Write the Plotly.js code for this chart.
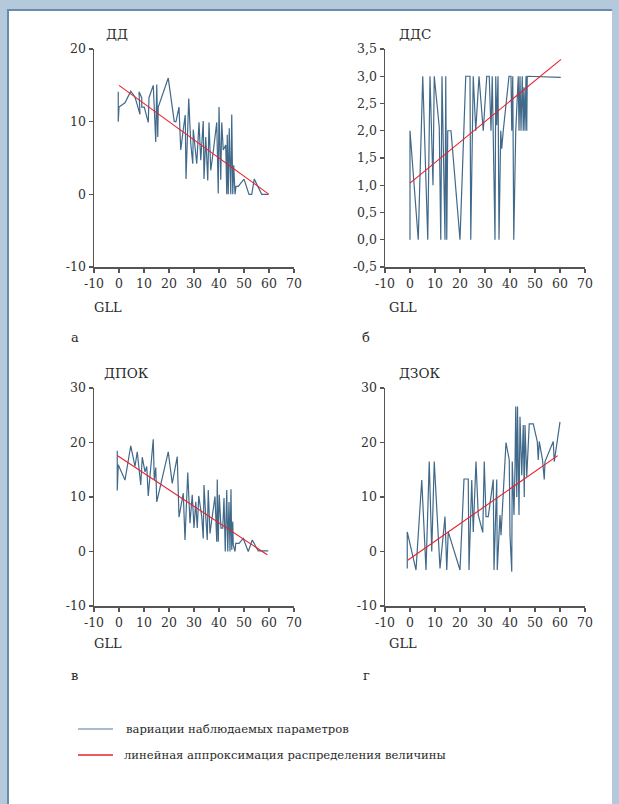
<!DOCTYPE html>
<html>
<head>
<meta charset="utf-8">
<script src="https://cdn.plot.ly/plotly-3.0.1.min.js"></script>
<style>
  html, body { margin: 0; padding: 0; width: 619px; height: 804px; overflow: hidden; background: #b5c9dd; }
  #panel { position: absolute; left: 7px; top: 9px; width: 603px; height: 800px; background: #ffffff;
           border-left: 2px solid #6a8cab; border-top: 2px solid #6a8cab; }
  #chart { position: absolute; left: 0; top: 0; width: 619px; height: 804px; }
</style>
</head>
<body>
<div id="panel"></div>
<div id="chart"></div>
<script>
// ---------- DATA ----------
const titles = ["ДД", "ДДС", "ДПОК", "ДЗОК"];
const panelLetters = ["а", "б", "в", "г"];
const xAxisLabel = "GLL";
const legendLabels = ["вариации наблюдаемых параметров", "линейная аппроксимация распределения величины"];

const ddX = [-0.3,-0.3,0,2.4,4.7,6.4,8.4,8,9.1,9.1,10.1,11.7,12,13.7,14.7,15.1,15.5,15.7,19.7,22.1,22.8,24,24.7,25.7,26.5,26.8,27.9,28.7,29.5,29.7,31.1,32,32.7,33.7,34,34.7,35.5,36,36.7,37.7,39.1,39.7,40,40.7,41.1,41.7,42.7,43.1,43.3,43.7,44.1,44.7,45.1,45.5,45.9,46.4,46.8,47.7,50,52,53.1,54.1,57.1,59.7];
const ddY = [14.1,10,12,12.6,14.2,13.4,11,14.1,13.3,12,12,9.9,13.3,15,7.2,15.1,7.9,12,16,10,10,12,6.1,8.9,10.9,2.1,13.2,7,4.2,8.9,4.2,9.9,4.7,10.1,2.1,7.9,1.9,9.9,3.3,5.9,9.9,0.1,12,2,9.9,6.1,6.8,0,8.2,0,9.1,0,11,0,4,0,1.1,1.1,2.1,0,0,2.1,0,0];
const ddFitX = [0, 60];
const ddFitY = [15, 0];

const ddsX = [0,0,3.3,5.1,7.1,8,9.2,9.7,11.7,12.3,12.8,14,14.3,14.5,14.7,15.1,16.4,20,22.3,24,24.3,25.3,26.3,27.6,29.3,30.7,31.7,32.4,32.9,34,34.3,34.7,35.2,35.6,36.3,36.7,37.3,39.6,40.4,40.7,41.1,41.5,42.3,43.3,43.6,44,44.4,44.9,45.3,45.6,46,46.4,46.7,46.9,60.3];
const ddsY = [0,2,0,3,0,3,1,3,2.07,0,3,0,3,1.65,0,2,2,0,3,3,0,3,2,3,2,3,3,2,3,0,3,2.1,3,0,2,1.67,2,3,3,2,3,0,2,3,2,3,2,3,2,2.8,2,3,2,3,2.98];
const ddsFitX = [0, 60.4];
const ddsFitY = [1.04, 3.31];

const dpokX = [-0.7,-0.7,-0.3,2.4,4.7,6.4,7.3,8.7,9.3,10.4,11.1,11.7,13.7,14.1,14.7,15.1,19.7,21.3,23.3,24,25.7,26.4,27.5,28.4,29.3,30,30.7,31.3,31.9,33.1,33.7,34,34.7,35.3,35.7,36.4,37.1,38.4,39.1,39.3,39.7,40.1,40.8,41.5,42,42.5,43.1,43.5,44,44.4,44.8,45.1,45.5,45.7,46.4,46.7,48,49.7,51.7,53.3,55.7,59.7];
const dpokY = [18.5,11.2,15.9,13.1,19.4,15.6,18.3,12.2,17.3,14.6,15.6,10.2,20.6,13.1,15.4,9.1,18.3,12.5,17.4,6.3,10.7,2.1,14.5,5.2,10.4,4.3,9.1,4.3,10.2,6.4,2.4,12.2,6.4,2.1,11.3,3.3,5.8,10.1,1.8,13.2,1.8,10.4,4.3,4.3,9.8,0,11.3,0,9.1,0,11.4,0.3,5.5,1.2,0,1.5,1.5,2.4,0,2.1,0.1,0.1];
const dpokFitX = [-0.7, 59.3];
const dpokFitY = [17.6, -0.6];

const dzokX = [-1.1,-1.1,2.4,4.7,6.4,7.7,8.7,9.7,12,14,14.7,15.3,20,21.6,23.3,23.6,24.7,25.3,26.4,27.3,29.1,29.7,30.4,31.3,33.3,33.6,34.7,34.9,36,36.4,38.4,39.7,40,40.7,40.9,41.6,42,42.3,42.7,43,43.6,44,44.7,45.3,45.7,46,46.7,47.7,49.3,50.9,51.3,51.7,53,53.7,54,57.3,57.7,60];
const dzokY = [-3.1,3.6,-3.4,13.1,-3.4,16.5,0,16.5,-3.1,6.4,-3.4,3.6,-3.4,13.3,13.3,-3.4,13.1,3.6,16.5,6.7,3.5,16.5,6.4,6.4,13.2,-3.4,13.2,-3.4,6.7,3,20,16.8,3,-3.7,16.5,6.7,15.6,26.6,10,26.6,6.7,24.7,14,23.2,10,23.2,13.7,23.4,23.4,20.2,16.8,20.2,16.8,13.2,16.5,20.2,16.5,23.8];
const dzokFitX = [-0.9, 59.1];
const dzokFitY = [-1.6, 17.6];

const xTicks = [-10, 0, 10, 20, 30, 40, 50, 60, 70];
const xTickText = ["-10", "0", "10", "20", "30", "40", "50", "60", "70"];
const ddTicks = [-10, 0, 10, 20];
const ddTickText = ["-10", "0", "10", "20"];
const ddsTicks = [-0.5, 0, 0.5, 1, 1.5, 2, 2.5, 3, 3.5];
const ddsTickText = ["-0,5", "0,0", "0,5", "1,0", "1,5", "2,0", "2,5", "3,0", "3,5"];
const bigTicks = [-10, 0, 10, 20, 30];
const bigTickText = ["-10", "0", "10", "20", "30"];

// ---------- STYLE / LAYOUT ----------
const W = 619, H = 804;
const px = v => v / W;
const py = v => 1 - v / H;
const FONT = "DejaVu Serif";
const dataColor = "#41698a";
const fitColor = "#e8202a";
const legendDataColor = "#8ca7c0";

const series = [
  {x: ddX, y: ddY, fx: ddFitX, fy: ddFitY},
  {x: ddsX, y: ddsY, fx: ddsFitX, fy: ddsFitY},
  {x: dpokX, y: dpokY, fx: dpokFitX, fy: dpokFitY},
  {x: dzokX, y: dzokY, fx: dzokFitX, fy: dzokFitY}
];

const traces = [];
series.forEach((s, i) => {
  const ax = i === 0 ? "" : String(i + 1);
  traces.push({x: s.x, y: s.y, xaxis: "x" + ax, yaxis: "y" + ax, type: "scatter", mode: "lines",
               line: {color: dataColor, width: 1.2}, hoverinfo: "skip", showlegend: false});
  traces.push({x: s.fx, y: s.fy, xaxis: "x" + ax, yaxis: "y" + ax, type: "scatter", mode: "lines",
               line: {color: fitColor, width: 1.1}, hoverinfo: "skip", showlegend: false});
});

const boxes = [
  {x0: 94, x1: 294, y0: 49, y1: 267, yr: [-10, 20], yt: ddTicks, ytt: ddTickText},
  {x0: 385, x1: 585, y0: 49, y1: 267, yr: [-0.5, 3.5], yt: ddsTicks, ytt: ddsTickText},
  {x0: 94, x1: 294, y0: 388, y1: 606, yr: [-10, 30], yt: bigTicks, ytt: bigTickText},
  {x0: 385, x1: 585, y0: 388, y1: 606, yr: [-10, 30], yt: bigTicks, ytt: bigTickText}
];

const tickFont = {family: FONT, size: 12.5, color: "#333333"};
const layout = {
  width: W, height: H,
  margin: {l: 0, r: 0, t: 0, b: 0, pad: 0},
  paper_bgcolor: "rgba(0,0,0,0)", plot_bgcolor: "rgba(0,0,0,0)",
  showlegend: false,
  annotations: [], shapes: []
};

boxes.forEach((b, i) => {
  const ax = i === 0 ? "" : String(i + 1);
  layout["xaxis" + ax] = {
    domain: [px(b.x0), px(b.x1)], anchor: "y" + ax, range: [-10, 70],
    tickmode: "array", tickvals: xTicks, ticktext: xTickText, ticks: "outside", ticklen: 4, tickwidth: 1.2, tickcolor: "#555",
    showline: true, linecolor: "#555", linewidth: 1.5, showgrid: false, zeroline: false,
    tickfont: tickFont, fixedrange: true
  };
  layout["yaxis" + ax] = {
    domain: [py(b.y1), py(b.y0)], anchor: "x" + ax, range: b.yr,
    tickmode: "array", tickvals: b.yt, ticktext: b.ytt, ticks: "outside", ticklen: 4, tickwidth: 1.2, tickcolor: "#555",
    showline: true, linecolor: "#555", linewidth: 1.5, showgrid: false, zeroline: false,
    tickfont: tickFont, fixedrange: true
  };
});

function addText(text, x, y, size, anchor) {
  layout.annotations.push({text: text, xref: "paper", yref: "paper", x: px(x), y: py(y),
    xanchor: anchor || "left", yanchor: "middle", showarrow: false,
    font: {family: FONT, size: size, color: "#2a2a2a"}});
}

const titlePos = [[104, 34], [397, 34], [102, 373], [397, 373]];
titles.forEach((t, i) => addText(t, titlePos[i][0], titlePos[i][1], 13.5));
const gllPos = [[92, 307], [387, 307], [92, 643], [387, 643]];
gllPos.forEach(p => addText(xAxisLabel, p[0], p[1], 13));
const letterPos = [[69, 338], [360, 338], [69, 675], [361, 675]];
panelLetters.forEach((t, i) => addText(t, letterPos[i][0], letterPos[i][1], 13));

// legend
const legendRows = [{y: 729, color: legendDataColor, tx: 124}, {y: 755, color: fitColor, tx: 122}];
legendRows.forEach((r, i) => {
  layout.shapes.push({type: "line", xref: "paper", yref: "paper", x0: px(78), x1: px(113), y0: py(r.y), y1: py(r.y),
    line: {color: r.color, width: 1.3}});
  addText(legendLabels[i], r.tx, r.y, 11.6);
});

Plotly.newPlot("chart", traces, layout, {staticPlot: true, displayModeBar: false});
</script>
</body>
</html>
